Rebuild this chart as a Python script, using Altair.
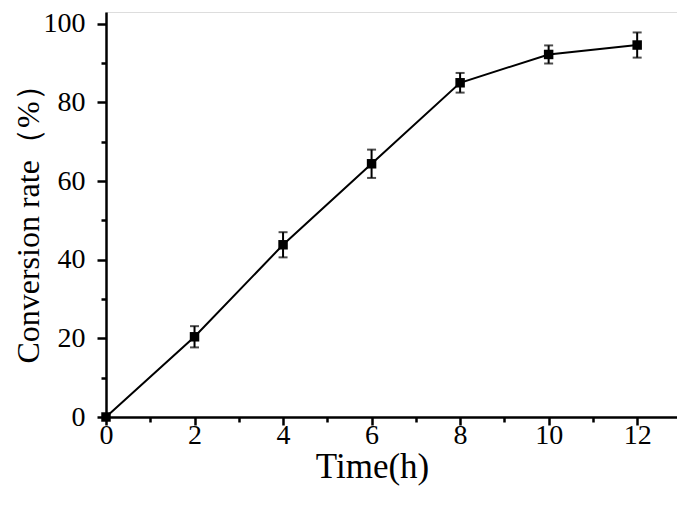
import altair as alt
import pandas as pd

time_h = [0, 2, 4, 6, 8, 10, 12]
conversion = [0, 20.4, 43.8, 64.4, 85.0, 92.2, 94.6]
error = [0, 2.7, 3.2, 3.6, 2.5, 2.3, 3.2]

df = pd.DataFrame({"t": time_h, "c": conversion, "e": error})
df["lo"] = df["c"] - df["e"]
df["hi"] = df["c"] + df["e"]
eb = df[df["e"] > 0]

FONT = "Liberation Serif"

xscale = alt.Scale(domain=[0, 12.9], nice=False, zero=False)
yscale = alt.Scale(domain=[0, 103], nice=False)

xaxis = alt.Axis(
    values=list(range(0, 13)),
    labelExpr="datum.value % 2 === 0 ? datum.label : ''",
    tickSize={"condition": {"test": "datum.value % 2 === 0", "value": 8}, "value": 5},
    tickWidth=2.5, domainWidth=2.5, domainColor="black", tickColor="black",
    labelFont=FONT, labelFontSize=28, labelColor="black", labelPadding=-4,
    labelFlush=False,
    titleFont=FONT, titleFontSize=35, titleFontWeight="normal", titleColor="black",
    titleX=266, titleY=60, titleBaseline="alphabetic", titleAlign="center",
    grid=False,
)
yaxis = alt.Axis(
    values=list(range(0, 101, 10)),
    labelExpr="datum.value % 20 === 0 ? datum.label : ''",
    tickSize={"condition": {"test": "datum.value % 20 === 0", "value": 9}, "value": 5},
    tickWidth=2.5, domainWidth=2.5, domainColor="black", tickColor="black",
    labelFont=FONT, labelFontSize=28, labelColor="black", labelPadding=12,
    labelFlush=False,
    titleFont=FONT, titleFontSize=32, titleFontWeight="normal", titleColor="black",
    titleX=-68, titleY=204, titleAngle=270, titleBaseline="alphabetic", titleAlign="center",
    grid=False,
)

base = alt.Chart(df)
line = base.mark_line(color="black", strokeWidth=2).encode(
    x=alt.X("t:Q", scale=xscale, axis=xaxis, title="Time(h)"),
    y=alt.Y("c:Q", scale=yscale, axis=yaxis, title="Conversion rate（%）"),
)
pts = base.mark_square(color="black", size=90, opacity=1).encode(x="t:Q", y="c:Q")
ebase = alt.Chart(eb)
rules = ebase.mark_rule(color="black", strokeWidth=2).encode(x="t:Q", y="lo:Q", y2="hi:Q")
cap_lo = ebase.mark_tick(color="black", orient="horizontal", size=9, thickness=2).encode(x="t:Q", y="lo:Q")
cap_hi = ebase.mark_tick(color="black", orient="horizontal", size=9, thickness=2).encode(x="t:Q", y="hi:Q")

chart = alt.layer(line, rules, cap_lo, cap_hi, pts).properties(
    width=571, height=405,
    autosize=alt.AutoSizeParams(type="none"),
    padding={"left": 98, "top": 4, "right": 0, "bottom": 83},
).configure_view(stroke=None).configure(background="white")

chart.save("out.html", embed_options={"renderer": "svg", "actions": False})
